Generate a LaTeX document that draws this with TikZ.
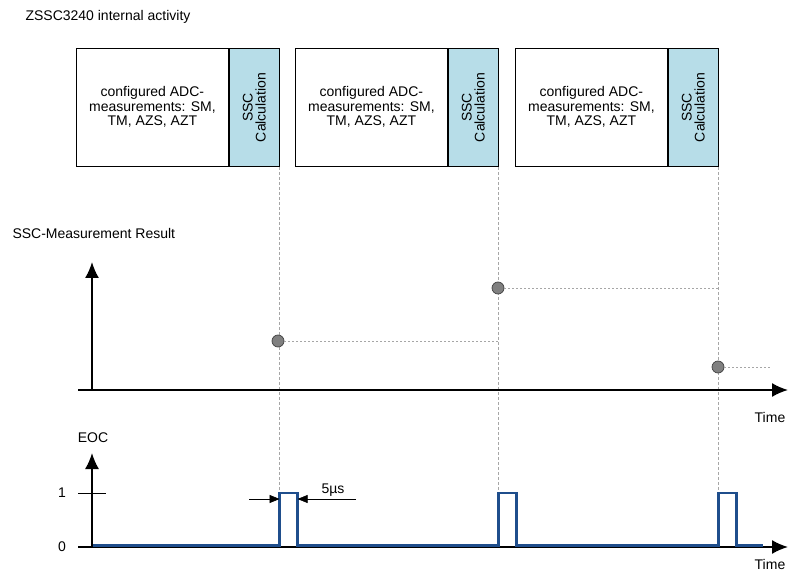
\documentclass[tikz,border=0pt]{standalone}
\usepackage{fontspec}
\setmainfont{Liberation Sans}
\usetikzlibrary{arrows.meta}
\definecolor{calcblue}{HTML}{B7DDE8}
\definecolor{eocblue}{HTML}{1F4E8C}
\definecolor{guidegray}{HTML}{A6A6A6}
\tikzset{
  axis/.style={line width=1.7pt, -{Latex[length=16pt,width=14pt]}},
  guide/.style={guidegray, line width=0.7pt, dash pattern=on 3pt off 2pt},
  level/.style={guidegray, line width=0.7pt, dash pattern=on 2pt off 2pt},
  result/.style={circle, draw=black!75, fill=black!50, line width=0.7pt, minimum size=12pt, inner sep=0},
  eoc/.style={eocblue, line width=2.4pt},
  dim/.style={line width=0.6pt, -{Triangle[length=10pt,width=8pt]}},
}

\begin{document}
\begin{tikzpicture}[x=1pt, y=-1pt, font=\fontsize{14}{14.5}\selectfont]
    \useasboundingbox (0,0) rectangle (788,572);
    \node[anchor=west] (title) at (22,17) {ZSSC3240 internal activity};
    % measurement cycles
    \foreach \i/\x in {1/76, 2/295, 3/515} {
        \node[draw, line width=0.8pt, anchor=north west, minimum width=152, minimum height=118, align=center] (meas\i) at (\x,48) {configured ADC-\\measurements: SM,\\TM, AZS, AZT\vphantom{g}};
        \node[draw, line width=0.8pt, fill=calcblue, anchor=north west, minimum width=50, minimum height=118] (calc\i) at (meas\i.north east) {};
        \node[rotate=90, align=center, font=\fontsize{14}{13}\selectfont] (calctext\i) at (calc\i) {SSC\\Calculation};
        \coordinate (up\i) at (calc\i.south east |- 0,493);
        \coordinate (down\i) at ([xshift=18] up\i);
        \draw[guide] (calc\i.south east) -- (up\i);
    }
    % result axis
    \node[anchor=west] (reslabel) at (9,233) {SSC-Measurement Result};
    \coordinate (o1) at (92,390);
    \draw[axis] (o1) -- (92,262);
    \draw[axis] (78,390) -- (788,390);
    \node (time1) at (770,417) {Time};
    \node[result] (res1) at (278,341) {};
    \node[result] (res2) at (498,288) {};
    \node[result] (res3) at (718,367) {};
    \draw[level] (res1) -- (res1 -| calc2.south east);
    \draw[level] (res2) -- (res2 -| calc3.south east);
    \draw[level] (res3) -- (770,367);
    % EOC axis
    \coordinate (o2) at (92,547);
    \node (eoclabel) at (93,438) {EOC};
    \draw[axis] (o2) -- (92,453);
    \draw[axis] (78,547) -- (788,547);
    \draw[line width=0.6pt] (78,493) -- (106,493);
    \node (one) at (62,493) {1};
    \node (zero) at (62,547) {0};
    \node (time2) at (770,564) {Time};
    % EOC signal
    \coordinate (e0) at (93,545.5);
    \draw[eoc] (e0) -- (up1 |- e0) -- (up1) -- (down1) -- (down1 |- e0)
        -- (up2 |- e0) -- (up2) -- (down2) -- (down2 |- e0)
        -- (up3 |- e0) -- (up3) -- (down3) -- (down3 |- e0) -- (763,545.5);
    % pulse width
    \draw[dim] (249,499) -- (up1 |- 0,499);
    \draw[dim] (356,499) -- (down1 |- 0,499);
    \node (width) at (333,490) {5µs};
\end{tikzpicture}
\end{document}
